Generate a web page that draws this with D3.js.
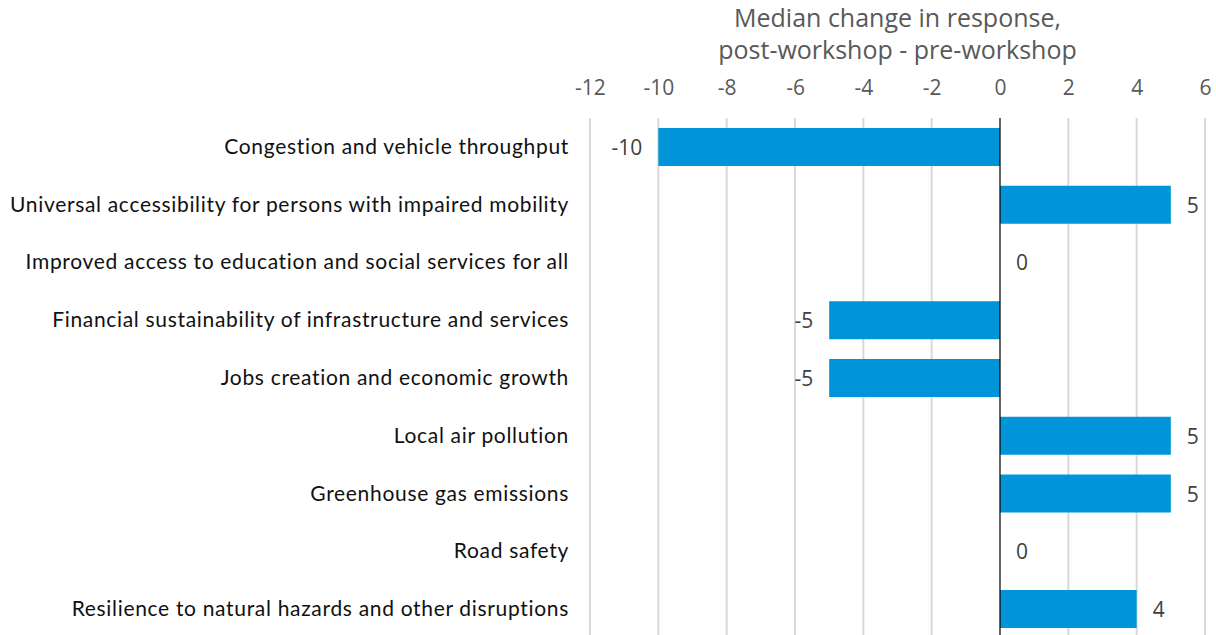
<!DOCTYPE html>
<html><head><meta charset="utf-8">
<script src="https://cdn.jsdelivr.net/npm/d3@7"></script>
<style>body{margin:0;background:#fff;}svg{display:block;}</style>
</head><body>
<svg id="c" width="1216" height="635"></svg>
<script>
const categories = [
  "Congestion and vehicle throughput",
  "Universal accessibility for persons with impaired mobility",
  "Improved access to education and social services for all",
  "Financial sustainability of infrastructure and services",
  "Jobs creation and economic growth",
  "Local air pollution",
  "Greenhouse gas emissions",
  "Road safety",
  "Resilience to natural hazards and other disruptions"
];
const values = [-10, 5, 0, -5, -5, 5, 5, 0, 4];
const tickValues = [-12, -10, -8, -6, -4, -2, 0, 2, 4, 6];
const titleLines = ["Median change in response,", "post-workshop - pre-workshop"];

const svg = d3.select("#c");
const x = d3.scaleLinear().domain([-12, 6]).range([590, 1205]);
const y = d3.scaleBand().domain(categories).range([118, 638]).paddingInner(0.342).paddingOuter(0.173);

// gridlines
svg.append("g").selectAll("line").data(tickValues.filter(d => d !== 0)).join("line")
  .attr("x1", d => x(d)).attr("x2", d => x(d)).attr("y1", 118).attr("y2", 635)
  .attr("stroke", "#d9d9d9").attr("stroke-width", 2);

// axis tick labels
const ax = svg.append("g").attr("transform", "translate(0,95)")
  .call(d3.axisTop(x).tickValues(tickValues).tickSize(0).tickPadding(0).tickFormat(d3.format("d")));
ax.select(".domain").remove();
ax.attr("font-size", 21).attr("font-family", "Open Sans");
ax.selectAll("text").attr("font-family", "Open Sans").attr("font-size", 21).attr("fill", "#595959")
  .attr("dy", 0).text(d => d < 0 ? "-" + Math.abs(d) : d);

// title
svg.append("g").selectAll("text").data(titleLines).join("text")
  .attr("x", x(-3)).attr("y", (d, i) => 27 + i * 32).attr("text-anchor", "middle")
  .attr("font-family", "Open Sans").attr("font-size", 25).attr("fill", "#595959").text(d => d);

// bars
svg.append("g").selectAll("rect").data(values).join("rect")
  .attr("x", d => x(Math.min(0, d))).attr("width", d => Math.abs(x(d) - x(0)))
  .attr("y", (d, i) => y(categories[i])).attr("height", y.bandwidth())
  .attr("fill", "#0095d9");

// zero line
svg.append("line").attr("x1", x(0)).attr("x2", x(0)).attr("y1", 118).attr("y2", 635)
  .attr("stroke", "#000").attr("stroke-width", 1.2);

// category labels
const catText = svg.append("g").selectAll("text").data(categories).join("text")
  .attr("x", 569).attr("y", d => y(d) + y.bandwidth() / 2 + 7)
  .attr("text-anchor", "end").attr("font-family", "Lato").attr("font-size", 21).attr("fill", "#111")
  .text(d => d);
// fit longest label to the reference width (559px) via letter spacing
const longest = d3.max(catText.nodes(), n => n.getComputedTextLength());
const longestLen = d3.max(categories, d => d.length);
catText.attr("letter-spacing", (559 - longest) / longestLen);

// value labels
svg.append("g").selectAll("text").data(values).join("text")
  .attr("x", d => d < 0 ? x(d) - 16 : x(d) + 16)
  .attr("y", (d, i) => y(categories[i]) + y.bandwidth() / 2 + 8)
  .attr("text-anchor", d => d < 0 ? "end" : "start")
  .attr("font-family", "Open Sans").attr("font-size", 21).attr("fill", "#404040")
  .text(d => d < 0 ? "-" + Math.abs(d) : d);
</script>
</body></html>
